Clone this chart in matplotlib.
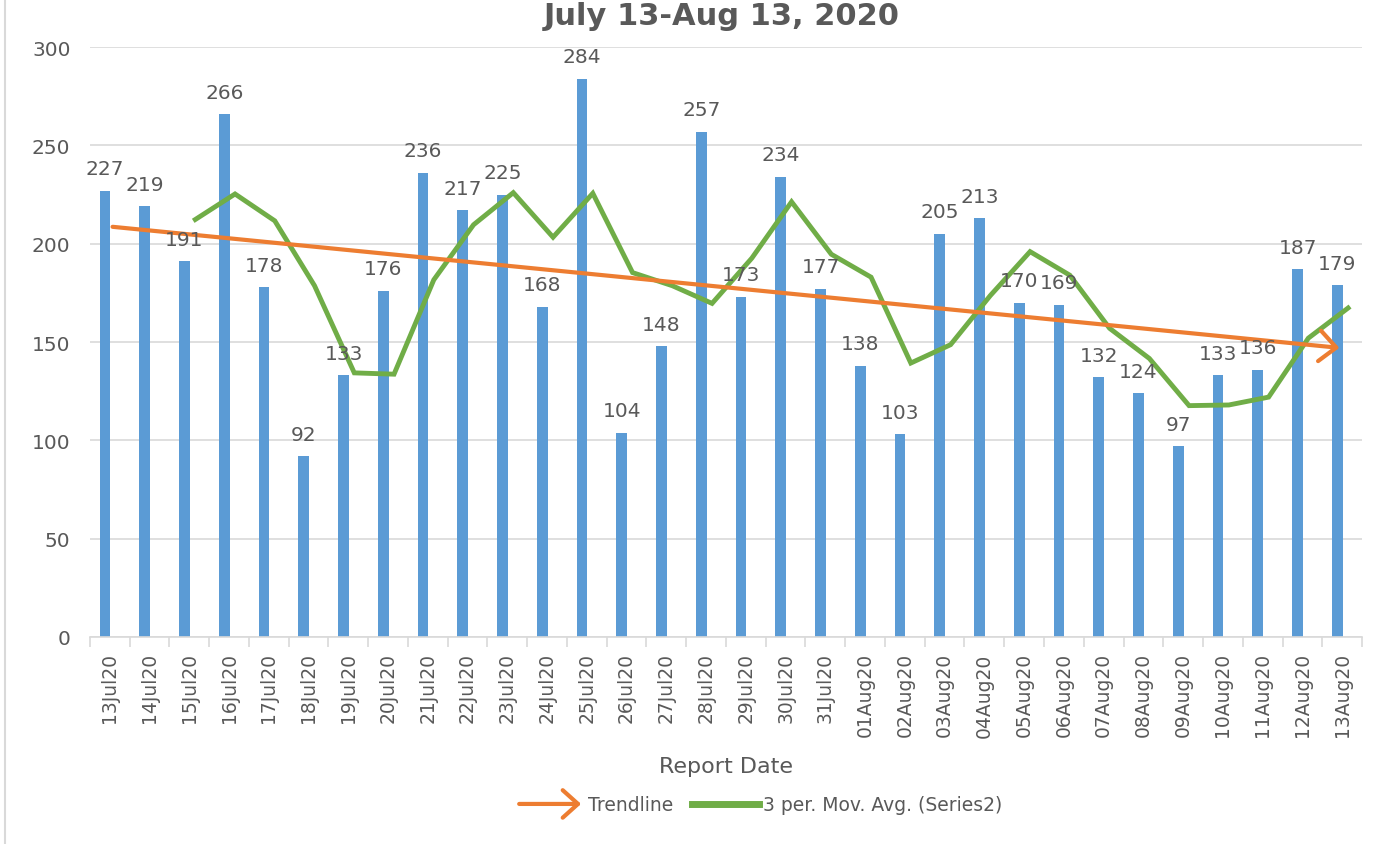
"""Daily report counts with trendline and 3-period moving average."""

import numpy as np
import matplotlib
matplotlib.use("Agg")
import matplotlib.pyplot as plt
from matplotlib.patches import FancyArrowPatch
from matplotlib.lines import Line2D
from matplotlib.legend_handler import HandlerBase

dates = ["13Jul20", "14Jul20", "15Jul20", "16Jul20", "17Jul20", "18Jul20", "19Jul20",
         "20Jul20", "21Jul20", "22Jul20", "23Jul20", "24Jul20", "25Jul20", "26Jul20",
         "27Jul20", "28Jul20", "29Jul20", "30Jul20", "31Jul20", "01Aug20", "02Aug20",
         "03Aug20", "04Aug20", "05Aug20", "06Aug20", "07Aug20", "08Aug20", "09Aug20",
         "10Aug20", "11Aug20", "12Aug20", "13Aug20"]
counts = [227, 219, 191, 266, 178, 92, 133, 176, 236, 217, 225, 168, 284, 104, 148, 257,
          173, 234, 177, 138, 103, 205, 213, 170, 169, 132, 124, 97, 133, 136, 187, 179]

BLUE = "#5B9BD5"
ORANGE = "#ED7D31"
GREEN = "#70AD47"
TEXT = "#595959"
GRID = "#D9D9D9"


class ArrowHandler(HandlerBase):
    def create_artists(self, legend, orig_handle, xdescent, ydescent, width, height,
                       fontsize, trans):
        y = height / 2 - ydescent
        arr = FancyArrowPatch((-xdescent, y), (width - xdescent, y),
                              arrowstyle="->,head_length=0.5,head_width=0.45",
                              mutation_scale=22, color=ORANGE, lw=3, transform=trans)
        return [arr]


def main() -> None:
    x = np.arange(len(counts))
    y = np.array(counts, dtype=float)

    # 3 period moving average, as Excel draws it
    ma = np.convolve(y, np.ones(3) / 3, mode="valid")
    ma_x = x[2:] + 0.15
    # linear trendline
    slope, icpt = np.polyfit(x, y, 1)

    fig = plt.figure(figsize=(13.73, 8.45), dpi=100)
    ax = fig.add_axes([0.0655, 0.245, 0.9265, 0.698])

    ax.bar(x - 0.12, y, width=0.27, color=BLUE, zorder=2)
    for xi, v in zip(x, counts):
        ax.annotate(str(v), (xi - 0.12, v), xytext=(0, 9), textcoords="offset points",
                    ha="center", va="bottom", fontsize=14.5, color=TEXT, zorder=5)

    ax.plot(ma_x, ma, color=GREEN, lw=3.5, solid_joinstyle="miter", zorder=3)
    trend = FancyArrowPatch((x[0], icpt), (x[-1], icpt + slope * x[-1]),
                            arrowstyle="->,head_length=0.55,head_width=0.5",
                            mutation_scale=22, color=ORANGE, lw=3, zorder=4)
    ax.add_patch(trend)

    ax.set_xlim(-0.5, len(counts) - 0.5)
    ax.set_ylim(0, 300)
    ax.set_yticks(np.arange(0, 301, 50))
    ax.grid(axis="y", color=GRID, lw=1.2, zorder=0)
    ax.set_axisbelow(True)

    ax.set_xticks(x)
    ax.set_xticklabels(dates, rotation=90, fontsize=13.5, color=TEXT)
    ax.set_xticks(np.arange(-0.5, len(counts), 1), minor=True)
    ax.tick_params(axis="x", which="major", length=0, pad=11)
    ax.tick_params(axis="x", which="minor", length=7, color=GRID, width=1.2)
    ax.tick_params(axis="y", length=0, labelsize=14.5, labelcolor=TEXT, pad=14)

    for side in ("left", "right", "top"):
        ax.spines[side].set_visible(False)
    ax.spines["bottom"].set_color(GRID)
    ax.spines["bottom"].set_linewidth(1.2)

    ax.set_xlabel("Report Date", fontsize=16, color=TEXT, labelpad=14)

    fig.text(0.526, 1 - 25 / 845, "July 13-Aug 13, 2020", ha="center", va="baseline",
             fontsize=22, fontweight="bold", color=TEXT)

    handles = [Line2D([], [], color=ORANGE), Line2D([], [], color=GREEN, lw=5)]
    fig.legend(handles, ["Trendline", "3 per. Mov. Avg. (Series2)"],
               handler_map={handles[0]: ArrowHandler()},
               loc="center", bbox_to_anchor=(0.553, 1 - 806 / 845), ncol=2, frameon=False,
               fontsize=13.5, labelcolor=TEXT, handlelength=3.6, handletextpad=0.2,
               columnspacing=1.0)

    fig.add_artist(Line2D([5 / 1373, 5 / 1373], [0, 1], color=GRID, lw=1.5,
                          transform=fig.transFigure))

    fig.savefig("out.png", dpi=100)


if __name__ == "__main__":
    main()
